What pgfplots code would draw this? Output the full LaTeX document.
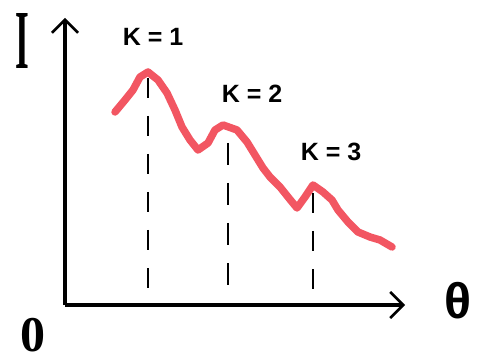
\documentclass[border=0pt]{standalone}
\usepackage{pgfplots}
\pgfplotsset{compat=1.18}
\usepackage{graphicx}
\usepackage{fontspec}
\setmainfont{Liberation Serif}
\newfontfamily\labelfont{Liberation Sans}
\usetikzlibrary{arrows.meta}
\definecolor{curvered}{RGB}{242,86,98}

\begin{document}
\begin{tikzpicture}
\useasboundingbox (-65pt,-56pt) rectangle (416pt,305pt);
\begin{axis}[
  at={(0pt,0pt)}, anchor=south west,
  x=1pt, y=1pt,
  xmin=0, xmax=340, ymin=0, ymax=287,
  axis lines=left,
  axis line style={line width=4pt, black,
    -{Straight Barb[length=13pt, width=26pt, line width=2.5pt]}},
  xtick=\empty, ytick=\empty,
  clip=false,
]
% interference intensity curve
\addplot[curvered, line width=7.5pt, line join=round, line cap=round] coordinates {
 (50,193) (60,205) (68,215) (75,228) (83,233) (93,225) (102,212) (110,195)
 (117,178) (125,165) (133,155) (143,162) (150,175) (158,180) (172,175)
 (182,163) (190,150) (198,137) (205,128) (215,118) (223,108) (232,97)
 (240,108) (248,120) (258,113) (267,105) (273,95) (283,83) (293,73)
 (305,68) (315,65) (327,58)
};
% drop lines under the maxima
\addplot[black, line width=2pt, dash pattern=on 20pt off 18pt] coordinates {(83,227) (83,0)};
\addplot[black, line width=2pt, dash pattern=on 22pt off 18pt] coordinates {(163,162) (163,12)};
\addplot[black, line width=2pt, dash pattern=on 20pt off 18pt] coordinates {(248,112) (248,0)};

\node[font=\labelfont\bfseries\fontsize{25}{25}\selectfont] at (axis cs:88,268) {K = 1};
\node[font=\labelfont\bfseries\fontsize{25}{25}\selectfont] at (axis cs:187,211) {K = 2};
\node[font=\labelfont\bfseries\fontsize{25}{25}\selectfont] at (axis cs:266,153) {K = 3};

\node[font=\bfseries\fontsize{84}{84}\selectfont] at (axis cs:-43,264) {\scalebox{0.42}[1]{I}};
\node[font=\labelfont\bfseries\fontsize{50}{50}\selectfont] at (axis cs:393,4) {θ};
\node[font=\bfseries\fontsize{50}{50}\selectfont] at (axis cs:-32,-30) {0};
\end{axis}
\end{tikzpicture}
\end{document}
